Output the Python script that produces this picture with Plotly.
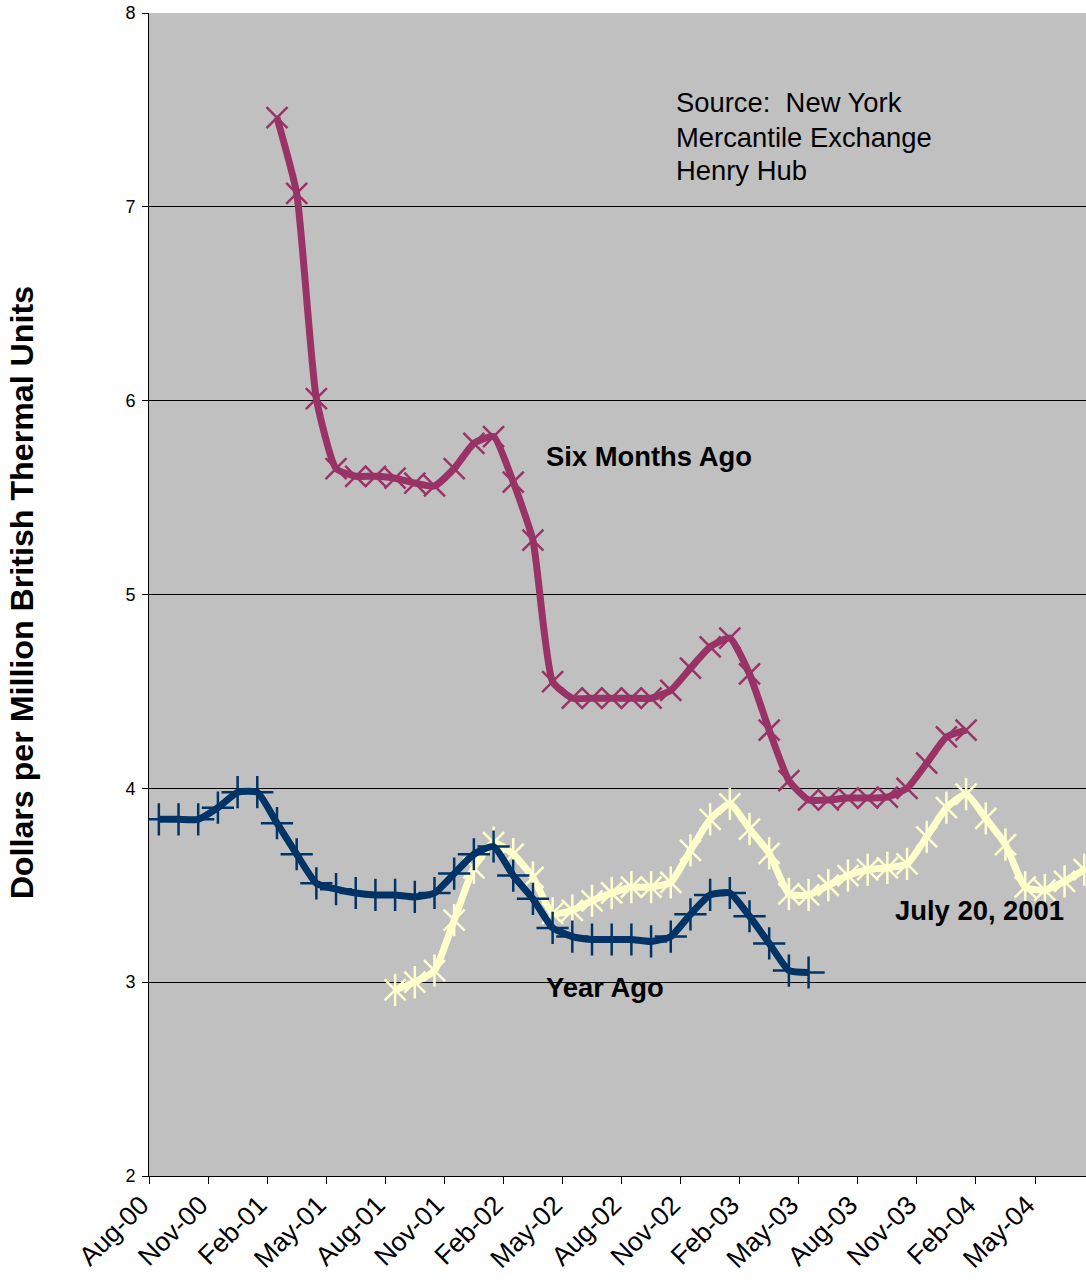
import plotly.graph_objects as go

# Month index 0 = Aug-00; points sit mid-month (index + 0.5)
tick_labels = ["Aug-00", "Nov-00", "Feb-01", "May-01", "Aug-01", "Nov-01", "Feb-02", "May-02",
               "Aug-02", "Nov-02", "Feb-03", "May-03", "Aug-03", "Nov-03", "Feb-04", "May-04"]
tick_months = [3 * i for i in range(len(tick_labels))]

year_ago_start = 0
year_ago = [3.84, 3.84, 3.84, 3.90, 3.98, 3.98, 3.82, 3.66, 3.51, 3.48, 3.46, 3.45, 3.45, 3.44,
            3.46, 3.56, 3.66, 3.70, 3.55, 3.43, 3.28, 3.235, 3.22, 3.22, 3.22, 3.21, 3.235, 3.35,
            3.45, 3.46, 3.34, 3.20, 3.06, 3.05]

six_months_start = 6
six_months = [7.46, 7.07, 6.01, 5.65, 5.61, 5.61, 5.60, 5.575, 5.56, 5.65, 5.78, 5.815, 5.58,
              5.28, 4.55, 4.465, 4.465, 4.465, 4.465, 4.465, 4.505, 4.62, 4.73, 4.775, 4.59, 4.30,
              4.04, 3.94, 3.94, 3.95, 3.95, 3.955, 4.00, 4.13, 4.265, 4.30]

july_start = 12
july_2001 = [2.96, 3.00, 3.06, 3.32, 3.59, 3.72, 3.66, 3.54, 3.355, 3.37, 3.42, 3.46, 3.49, 3.49,
             3.515, 3.68, 3.84, 3.92, 3.79, 3.665, 3.455, 3.45, 3.50, 3.55, 3.58, 3.59, 3.61,
             3.75, 3.90, 3.97, 3.845, 3.71, 3.49, 3.475, 3.52, 3.58]

source_lines = ["Source:  New York", "Mercantile Exchange", "Henry Hub"]
source_y = [7.536, 7.360, 7.185]


def xs(start, vals):
    return [start + i + 0.5 for i in range(len(vals))]


FONT = "Arial, Liberation Sans, sans-serif"
YELLOW, BLUE, PLUM = "#FFFFCC", "#003366", "#993366"
fig = go.Figure()

SM = 0.5
LW = 7
fig.add_trace(go.Scatter(
    x=xs(july_start, july_2001), y=july_2001, mode="lines+markers",
    line=dict(color=YELLOW, width=LW, shape="spline", smoothing=SM),
    marker=dict(symbol="x-thin-open", size=21, color=YELLOW, line=dict(color=YELLOW, width=2.5)),
    showlegend=False, hoverinfo="skip"))
fig.add_trace(go.Scatter(
    x=xs(july_start, july_2001), y=july_2001, mode="markers",
    marker=dict(symbol="line-ns-open", size=23, color=YELLOW, line=dict(color=YELLOW, width=2.5)),
    showlegend=False, hoverinfo="skip"))

fig.add_trace(go.Scatter(
    x=xs(year_ago_start, year_ago), y=year_ago, mode="lines+markers",
    line=dict(color=BLUE, width=LW, shape="spline", smoothing=SM),
    marker=dict(symbol="cross-thin-open", size=23, color=BLUE, line=dict(color=BLUE, width=2.5)),
    showlegend=False, hoverinfo="skip"))

fig.add_trace(go.Scatter(
    x=xs(six_months_start, six_months), y=six_months, mode="lines+markers",
    line=dict(color=PLUM, width=LW, shape="spline", smoothing=SM),
    marker=dict(symbol="x-thin-open", size=21, color=PLUM, line=dict(color=PLUM, width=2.5)),
    showlegend=False, hoverinfo="skip"))

annos = [
    dict(x=20.05, y=5.71, text="<b>Six Months Ago</b>"),
    dict(x=20.05, y=2.975, text="<b>Year Ago</b>"),
    dict(x=37.8, y=3.372, text="<b>July 20, 2001</b>"),
]
for line, yv in zip(source_lines, source_y):
    annos.append(dict(x=26.65, y=yv, text=line))
for a in annos:
    a.update(xref="x", yref="y", showarrow=False, xanchor="left", yanchor="middle",
             font=dict(size=27.4, color="black", family=FONT))
    fig.add_annotation(**a)

fig.add_annotation(xref="paper", yref="paper", x=-0.1355, y=0.501,
                   text="<b>Dollars per Million British Thermal Units</b>", textangle=-90,
                   showarrow=False, xanchor="center", yanchor="middle",
                   font=dict(size=32.2, color="black", family=FONT))

fig.update_layout(
    width=1086, height=1283,
    margin=dict(l=149, r=0, t=13, b=107),
    paper_bgcolor="white", plot_bgcolor="#C0C0C0",
    font=dict(family=FONT, color="black"),
    xaxis=dict(range=[0, 47.59], tickvals=tick_months, ticktext=tick_labels, tickangle=-45,
               showgrid=False, zeroline=False, showline=True, linecolor="black", linewidth=1,
               ticks="outside", ticklen=7, tickcolor="black", tickwidth=1,
               ticklabelshift=-8, ticklabelstandoff=-5,
               tickfont=dict(size=26.5, family=FONT, color="black")),
    yaxis=dict(range=[2, 8], dtick=1, showgrid=True, gridcolor="black", gridwidth=1,
               zeroline=False, showline=True, linecolor="black", linewidth=1,
               ticks="outside", ticklen=6, tickcolor="black", tickwidth=1,
               ticklabelstandoff=3,
               tickfont=dict(size=18, family=FONT, color="black")),
)

fig.write_html("out.html")
